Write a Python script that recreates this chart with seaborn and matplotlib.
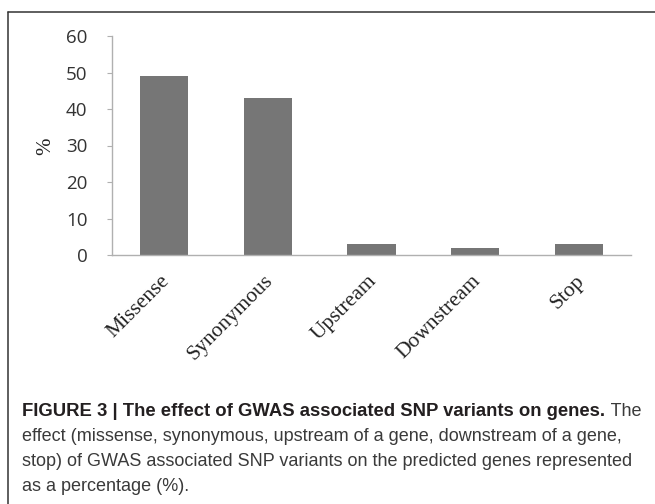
import matplotlib
matplotlib.use("Agg")
import matplotlib.pyplot as plt
import matplotlib.transforms as mtransforms
from matplotlib.lines import Line2D
import seaborn as sns
import pandas as pd

categories = ["Missense", "Synonymous", "Upstream", "Downstream", "Stop"]
values = [49, 43.1, 3, 1.8, 3]
yticks = [0, 10, 20, 30, 40, 50, 60]
ylabel = "%"
caption_bold = "FIGURE 3 | The effect of GWAS associated SNP variants on genes."
caption_rest_first = " The"
caption_lines = [
    "effect (missense, synonymous, upstream of a gene, downstream of a gene,",
    "stop) of GWAS associated SNP variants on the predicted genes represented",
    "as a percentage (%).",
]

sns.set_style("white")

W, H, DPI = 655, 504, 100
fig = plt.figure(figsize=(W / DPI, H / DPI), dpi=DPI)
ax = fig.add_axes([112 / W, (H - 255) / H, (631 - 112) / W, (255 - 36) / H])

df = pd.DataFrame({"category": categories, "value": values})
sns.barplot(data=df, x="category", y="value", color="#767676", saturation=1,
            width=0.465, ax=ax, edgecolor="none")

ax.set_xlim(-0.5, len(categories) - 0.5)
ax.set_ylim(0, 60)
ax.set_yticks(yticks)
ax.set_yticklabels([str(t) for t in yticks], fontfamily="Open Sans",
                   fontsize=13.5, color="#333333")
ax.set_xlabel("")
ax.set_ylabel("")

for s in ["top", "right"]:
    ax.spines[s].set_visible(False)
for s in ["left", "bottom"]:
    ax.spines[s].set_color("#b0b0b0")
    ax.spines[s].set_linewidth(1.0)

ax.tick_params(axis="y", which="both", left=True, length=3.6, width=0.8,
               color="#b0b0b0", pad=14)
ax.tick_params(axis="x", which="both", bottom=False, length=0, pad=12)

ax.set_xticks(range(len(categories)))
ax.set_xticklabels(categories, rotation=45, ha="right", va="top",
                   rotation_mode="anchor", fontfamily="Liberation Serif",
                   fontsize=15.5, color="#222222")
offset = mtransforms.ScaledTranslation(-4 / DPI, 0, fig.dpi_scale_trans)
for lab in ax.get_xticklabels():
    lab.set_transform(lab.get_transform() + offset)

fig.text(45.5 / W, 1 - 146 / H, ylabel, rotation=90, ha="center", va="center",
         fontfamily="Liberation Serif", fontsize=15, color="#222222")

# frame around the figure panel
fig.add_artist(Line2D([7.5 / W, 7.5 / W], [0, 1 - 11.5 / H],
                      transform=fig.transFigure, color="#333333", lw=1.1))
fig.add_artist(Line2D([7.5 / W, 1.0], [1 - 11.5 / H, 1 - 11.5 / H],
                      transform=fig.transFigure, color="#333333", lw=1.1))

# caption
x0 = 22.5 / W
base = [416, 441, 466, 491]
fs_bold = 13.35
fs_cap = 12.97
t = fig.text(x0, 1 - base[0] / H, caption_bold, fontfamily="Liberation Sans",
             fontweight="bold", fontsize=fs_bold, color="#231f20",
             ha="left", va="baseline")
fig.canvas.draw()
bb = t.get_window_extent(renderer=fig.canvas.get_renderer())
fig.text(bb.x1 / W, 1 - base[0] / H, caption_rest_first,
         fontfamily="Liberation Sans", fontsize=fs_cap, color="#3a3a3a",
         ha="left", va="baseline")
for i, line in enumerate(caption_lines):
    fig.text(x0, 1 - base[i + 1] / H, line, fontfamily="Liberation Sans",
             fontsize=fs_cap, color="#3a3a3a", ha="left", va="baseline")

fig.savefig("out.png", dpi=DPI)
